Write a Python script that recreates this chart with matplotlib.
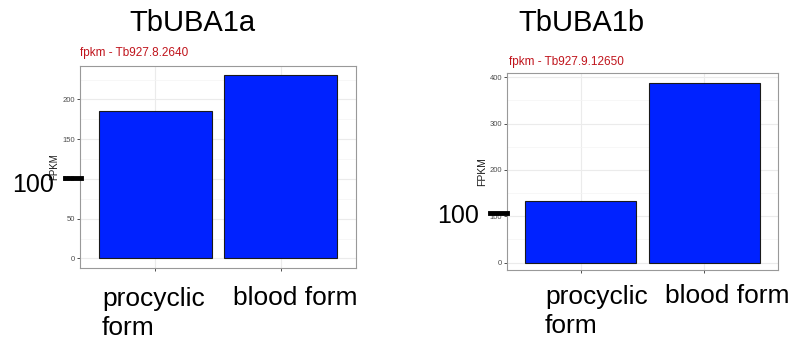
import matplotlib.pyplot as plt
from matplotlib.lines import Line2D
from matplotlib.ticker import MultipleLocator

plt.rcParams['font.family'] = ['Liberation Sans', 'DejaVu Sans']

W, H = 793, 340

# data
categories = ['procyclic\nform', 'blood form']
gene_names = ['TbUBA1a', 'TbUBA1b']
gene_ids = ['fpkm - Tb927.8.2640', 'fpkm - Tb927.9.12650']
fpkm_a = [186, 231]
fpkm_b = [133, 388]
ylims = [(-12, 242), (-16, 409)]
major_steps = [50, 100]

fig = plt.figure(figsize=(W / 100, H / 100), dpi=100)


def px(x, y):
    # pixel coords (top-left origin) -> figure fraction
    return x / W, 1 - y / H


def add_panel(left, top, right, bottom):
    x0, y1 = px(left, top)
    x1, y0 = px(right, bottom)
    return fig.add_axes([x0, y0, x1 - x0, y1 - y0])


panels = [(80, 66, 356, 268), (507, 73, 778, 270)]
values = [fpkm_a, fpkm_b]

axes = []
for i, box in enumerate(panels):
    ax = add_panel(*box)
    ax.bar([1, 2], values[i], width=0.9, color='#0022ff', edgecolor='#1a1a1a',
           linewidth=0.8, zorder=3)
    ax.set_xlim(0.4, 2.6)
    ax.set_ylim(*ylims[i])
    ax.yaxis.set_major_locator(MultipleLocator(major_steps[i]))
    ax.yaxis.set_minor_locator(MultipleLocator(major_steps[i] / 2))
    ax.set_xticks([1, 2])
    ax.set_xticklabels([])
    ax.grid(True, which='major', color='#ebebeb', linewidth=0.8, zorder=0)
    ax.grid(True, which='minor', color='#f4f4f4', linewidth=0.5, zorder=0)
    ax.tick_params(axis='both', which='major', length=2, width=0.6,
                   color='#333333', labelsize=5.5, labelcolor='#4d4d4d', pad=1.5)
    ax.tick_params(axis='y', which='minor', length=0)
    for s in ax.spines.values():
        s.set_color('#999999')
        s.set_linewidth(0.8)
    ax.set_ylabel('FPKM', fontsize=7 if i == 0 else 7.5, color='#1a1a1a', labelpad=2)
    axes.append(ax)

# big slide titles
for name, (x, y) in zip(gene_names, [(129, 31), (518, 31)]):
    fig.text(*px(x, y), name, fontsize=21, ha='left', va='baseline')

# red ggplot subtitles
for gid, (x, y) in zip(gene_ids, [(80, 53), (509, 62)]):
    fig.text(*px(x, y), gid, fontsize=8.5, color='#c0141c', ha='left', va='center')

# overlaid category labels (first-line baseline, line gap)
cat_pos = [[(102, 305), (233, 305)], [(545, 303), (665, 303)]]
line_gap = 30
for pos in cat_pos:
    for cat, (x, y) in zip(categories, pos):
        n_extra = cat.count('\n')
        fig.text(*px(x, y + n_extra * line_gap), cat, fontsize=19, ha='left',
                 va='baseline', linespacing=1.24)

# overlaid "100" markers with thick dashes
marks = [((12, 192), (65, 81, 178)), ((437, 223), (490, 507, 213))]
for (tx, ty), (dx0, dx1, dy) in marks:
    fig.text(*px(tx, ty), '100', fontsize=18, ha='left', va='baseline')
    a, b = px(dx0, dy)
    c, _ = px(dx1, dy)
    fig.add_artist(Line2D([a, c], [b, b], color='black', linewidth=3.5,
                          transform=fig.transFigure))

fig.savefig('out.png', dpi=100)
